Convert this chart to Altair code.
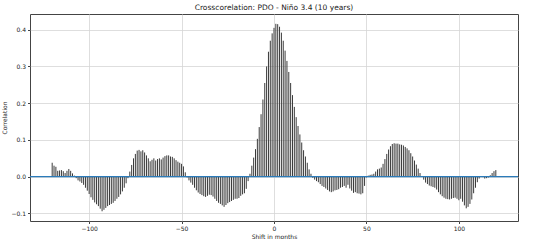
import altair as alt
import pandas as pd

lags = list(range(-120, 121))
corr = [
    0.038, 0.030, 0.027, 0.016, 0.017, 0.018, 0.015, 0.010, 0.016, 0.021,
    0.016, 0.009, 0.003, -0.004, -0.010, -0.013, -0.017, -0.022, -0.030, -0.038,
    -0.047, -0.056, -0.063, -0.070, -0.075, -0.080, -0.087, -0.094, -0.090, -0.085,
    -0.080, -0.077, -0.074, -0.071, -0.066, -0.060, -0.055, -0.048, -0.040, -0.030,
    -0.018, -0.004, 0.014, 0.032, 0.050, 0.062, 0.071, 0.073, 0.069, 0.072,
    0.066, 0.058, 0.050, 0.042, 0.046, 0.050, 0.044, 0.048, 0.050, 0.047,
    0.052, 0.056, 0.058, 0.058, 0.055, 0.054, 0.050, 0.045, 0.041, 0.038,
    0.035, 0.028, 0.012, -0.002, -0.010, -0.016, -0.022, -0.030, -0.037, -0.043,
    -0.047, -0.050, -0.053, -0.055, -0.052, -0.049, -0.050, -0.054, -0.060, -0.066,
    -0.071, -0.074, -0.078, -0.082, -0.077, -0.072, -0.069, -0.066, -0.063, -0.060,
    -0.060, -0.058, -0.052, -0.048, -0.045, -0.033, -0.012, 0.008, 0.030, 0.052,
    0.075, 0.103, 0.135, 0.170, 0.210, 0.255, 0.300, 0.340, 0.370, 0.390,
    0.405, 0.416, 0.415, 0.408, 0.392, 0.370, 0.343, 0.315, 0.285, 0.255,
    0.222, 0.190, 0.162, 0.138, 0.115, 0.093, 0.072, 0.055, 0.038, 0.020,
    0.008, -0.003, -0.008, -0.012, -0.015, -0.020, -0.025, -0.028, -0.032, -0.036,
    -0.040, -0.042, -0.040, -0.037, -0.036, -0.034, -0.030, -0.028, -0.025, -0.030,
    -0.022, -0.032, -0.038, -0.044, -0.042, -0.045, -0.046, -0.048, -0.045, -0.025,
    -0.002, 0.003, 0.005, 0.006, 0.008, 0.014, 0.020, 0.022, 0.025, 0.035,
    0.048, 0.062, 0.074, 0.083, 0.089, 0.091, 0.090, 0.090, 0.088, 0.087,
    0.085, 0.081, 0.077, 0.072, 0.064, 0.055, 0.044, 0.033, 0.022, 0.010,
    0.002, -0.008, -0.016, -0.020, -0.024, -0.026, -0.028, -0.030, -0.035, -0.042,
    -0.048, -0.053, -0.057, -0.060, -0.061, -0.062, -0.060, -0.058, -0.057, -0.060,
    -0.064, -0.060, -0.068, -0.078, -0.086, -0.082, -0.074, -0.062, -0.045, -0.030,
    -0.015, -0.005, 0.000, -0.001, -0.005, -0.004, -0.002, 0.004, 0.010, 0.015,
    0.018,
]
x_ticks = [-100, -50, 0, 50, 100]
y_ticks = [-0.1, 0.0, 0.1, 0.2, 0.3, 0.4]
zero_level = [0.0]

df = pd.DataFrame({"lag": lags, "corr": corr, "base": [0.0] * len(lags)})
zdf = pd.DataFrame({"z": zero_level})

xscale = alt.Scale(domain=[-132, 132], nice=False, zero=False)
yscale = alt.Scale(domain=[-0.1205, 0.4427], nice=False, zero=False)

stems = alt.Chart(df).mark_rule(color="#3a3a3a", strokeWidth=1).encode(
    x=alt.X("lag:Q", scale=xscale,
            axis=alt.Axis(values=x_ticks, title="Shift in months", format="d")),
    y=alt.Y("corr:Q", scale=yscale,
            axis=alt.Axis(values=y_ticks, title="Correlation", format=".1f")),
    y2="base:Q",
)

zero = alt.Chart(zdf).mark_rule(color="#2b7bba", strokeWidth=1.2).encode(
    y=alt.Y("z:Q", scale=yscale),
)

chart = (
    alt.layer(stems, zero)
    .properties(
        width=488,
        height=207,
        padding={"left": 30, "top": 14, "right": 32, "bottom": 22},
        autosize=alt.AutoSizeParams(type="none"),
        title=alt.TitleParams(
            "Crosscorelation: PDO - Niño 3.4 (10 years)",
            fontSize=7.5, font="DejaVu Sans", fontWeight="normal",
            color="#222", anchor="middle", offset=3,
        ),
        background="white",
    )
    .configure_view(stroke="#444", strokeWidth=1)
    .configure_axis(
        labelFont="DejaVu Sans", titleFont="DejaVu Sans",
        labelFontSize=6, titleFontSize=6, titleFontWeight="normal",
        labelColor="#222", titleColor="#222",
        grid=True, gridColor="#d6d6d6", gridWidth=0.8,
        domain=False, tickColor="#444", tickSize=2.5, labelPadding=2,
    )
    .configure_axisX(titlePadding=2)
    .configure_axisY(titlePadding=3)
)

chart.save("out.html", embed_options={"renderer": "svg", "actions": False})
